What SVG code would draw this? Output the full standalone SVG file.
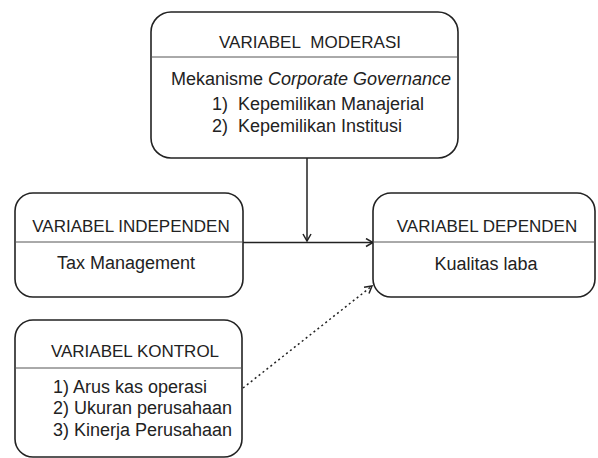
<svg xmlns="http://www.w3.org/2000/svg" width="598" height="458" viewBox="0 0 598 458">
<defs>
<style>
.box{fill:#fff;stroke:#222;stroke-width:1.6}
.div{stroke:#555;stroke-width:1}
.t{font-family:"Liberation Sans",Arial,sans-serif;font-size:18px;fill:#222;white-space:pre}
.h{font-size:17px}
.c{text-anchor:middle}
.ln{fill:none;stroke:#222;stroke-width:1.5}
.dot{fill:none;stroke:#222;stroke-width:1.5;stroke-dasharray:2 3}
</style>
<marker id="ah" viewBox="0 0 10 10" refX="9" refY="5" markerWidth="10" markerHeight="10" markerUnits="userSpaceOnUse" orient="auto">
<polyline points="2,1 9,5 2,9" fill="none" stroke="#222" stroke-width="1.5"/>
</marker>
</defs>
<rect width="598" height="458" fill="#fff"/>
<g id="connectors">
<line class="ln" x1="307" y1="158" x2="307" y2="241" marker-end="url(#ah)"/>
<line class="ln" x1="243" y1="242.5" x2="373" y2="242.5" marker-end="url(#ah)"/>
<line class="dot" x1="243" y1="388" x2="372" y2="286" marker-end="url(#ah)"/>
</g>
<g id="moderasi">
<rect class="box" x="151" y="12" width="307" height="146" rx="20"/>
<line class="div" x1="151" y1="57" x2="458" y2="57"/>
<text class="t h c" x="310" y="48">VARIABEL&#160; MODERASI</text>
<text class="t c" x="311" y="85" font-size="17.5">Mekanisme <tspan font-style="italic">Corporate Governance</tspan></text>
<text class="t" x="212" y="110">1)&#160; Kepemilikan Manajerial</text>
<text class="t" x="212" y="132">2)&#160; Kepemilikan Institusi</text>
</g>
<g id="independen">
<rect class="box" x="15" y="193" width="228" height="104" rx="18"/>
<line class="div" x1="15" y1="242" x2="243" y2="242"/>
<text class="t h c" x="131" y="232">VARIABEL INDEPENDEN</text>
<text class="t c" x="126" y="269">Tax Management</text>
</g>
<g id="dependen">
<rect class="box" x="373" y="193" width="222" height="104" rx="18"/>
<line class="div" x1="373" y1="242" x2="595" y2="242"/>
<text class="t h c" x="487" y="232">VARIABEL DEPENDEN</text>
<text class="t c" x="486" y="270">Kualitas laba</text>
</g>
<g id="kontrol">
<rect class="box" x="15" y="320" width="227" height="137" rx="18"/>
<line class="div" x1="15" y1="368" x2="242" y2="368"/>
<text class="t h c" x="135" y="357">VARIABEL KONTROL</text>
<text class="t" x="53" y="393">1) Arus kas operasi</text>
<text class="t" x="53" y="414">2) Ukuran perusahaan</text>
<text class="t" x="53" y="436">3) Kinerja Perusahaan</text>
</g>
</svg>
